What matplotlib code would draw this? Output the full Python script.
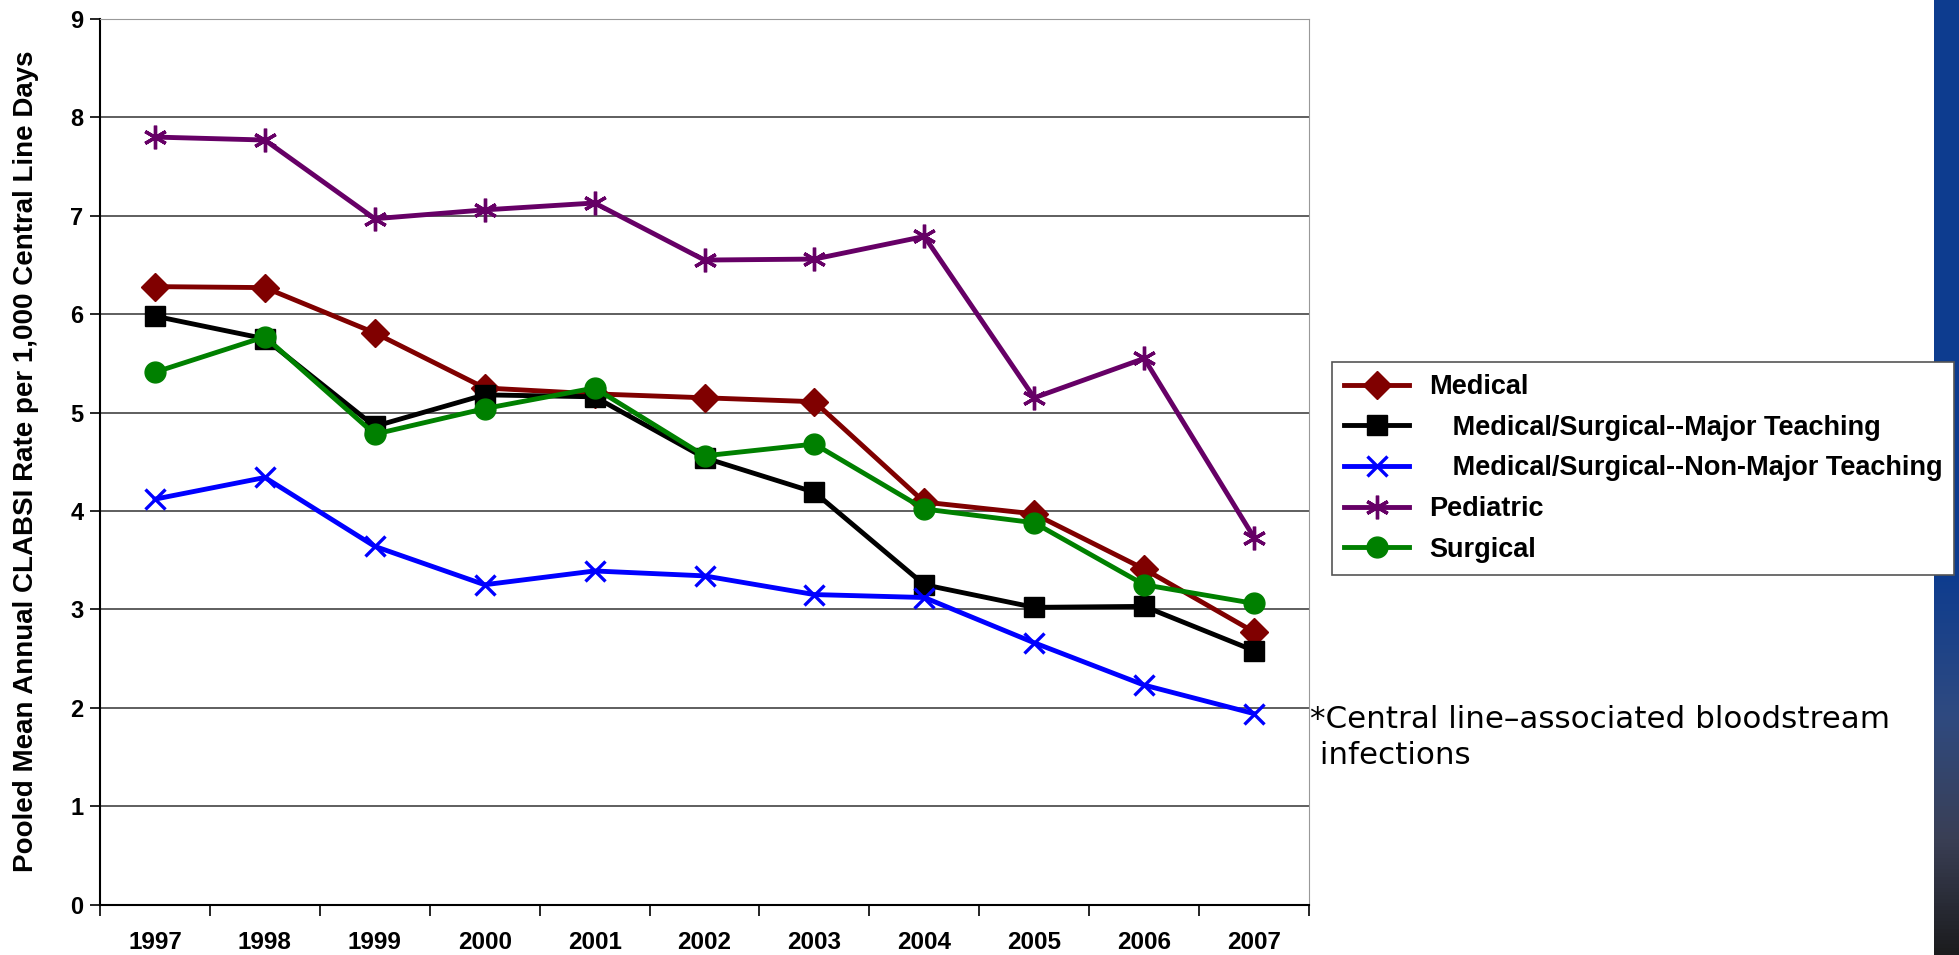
import numpy as np
import matplotlib

matplotlib.use("Agg")
import matplotlib.pyplot as plt
from matplotlib.colors import LinearSegmentedColormap

years = ["1997", "1998", "1999", "2000", "2001", "2002", "2003", "2004", "2005", "2006", "2007"]
medical = [6.28, 6.27, 5.81, 5.25, 5.19, 5.15, 5.11, 4.09, 3.97, 3.41, 2.77]
major_teaching = [5.98, 5.75, 4.86, 5.18, 5.16, 4.54, 4.19, 3.25, 3.02, 3.03, 2.58]
non_major_teaching = [4.12, 4.34, 3.64, 3.25, 3.39, 3.34, 3.15, 3.12, 2.66, 2.23, 1.94]
pediatric = [7.80, 7.77, 6.97, 7.06, 7.13, 6.55, 6.56, 6.79, 5.15, 5.55, 3.73]
surgical = [5.41, 5.77, 4.78, 5.04, 5.25, 4.56, 4.68, 4.02, 3.88, 3.25, 3.06]

labels = [
    "Medical",
    "   Medical/Surgical--Major Teaching",
    "   Medical/Surgical--Non-Major Teaching",
    "Pediatric",
    "Surgical",
]

plt.rcParams["font.family"] = ["Liberation Sans", "DejaVu Sans"]
plt.rcParams["font.weight"] = "bold"

W, H = 1959, 955
fig = plt.figure(figsize=(W / 100, H / 100), dpi=100)

# blue strip on the right edge
bar = fig.add_axes([1934 / W, 0, 25 / W, 1])
cmap = LinearSegmentedColormap.from_list(
    "strip", [(0, "#0d3c8f"), (0.6, "#0d3c8f"), (0.75, "#2f4a80"), (0.88, "#3a3f55"), (1, "#1c1c1e")]
)
bar.imshow(np.linspace(0, 1, 256).reshape(-1, 1), aspect="auto", cmap=cmap)
bar.set_axis_off()

ax = fig.add_axes([100 / W, 1 - 904.5 / H, 1209 / W, 885.5 / H])
x = np.arange(len(years))

ax.plot(x, medical, color="#800000", lw=3.5, marker="D", ms=14, label=labels[0])
ax.plot(x, major_teaching, color="black", lw=3.5, marker="s", ms=14, label=labels[1])
ax.plot(x, non_major_teaching, color="#0000ff", lw=3.5, marker="x", ms=15, mew=2.4, label=labels[2])
ax.plot(x, pediatric, color="#660066", lw=3.5, marker=(6, 2, 0), ms=17, mew=2.4, label=labels[3])
ax.plot(x, surgical, color="#008000", lw=3.5, marker="o", ms=15, label=labels[4])

ax.set_xlim(-0.5, len(years) - 0.5)
ax.set_ylim(0, 9)
ax.set_yticks(range(10))
ax.yaxis.grid(True, color="#333333", lw=1.1)
ax.set_axisbelow(True)

ax.set_xticks(np.arange(-0.5, len(years), 1.0))
ax.set_xticklabels([])
ax.set_xticks(x, minor=True)
ax.set_xticklabels(years, minor=True, fontsize=17.5, fontweight="bold")
ax.tick_params(axis="x", which="minor", length=0, pad=19)
ax.tick_params(axis="x", which="major", length=8, width=1.2, direction="out")
ax.tick_params(axis="y", length=7, width=1.2, pad=5, labelsize=17)
for t in ax.get_yticklabels():
    t.set_fontweight("bold")

ax.spines["left"].set_color("black")
ax.spines["bottom"].set_color("black")
ax.spines["left"].set_linewidth(1.5)
ax.spines["bottom"].set_linewidth(1.5)
ax.spines["top"].set_color("#999999")
ax.spines["right"].set_color("#999999")

ax.set_ylabel(
    "Pooled Mean Annual CLABSI Rate per 1,000 Central Line Days",
    fontsize=20,
    fontweight="bold",
    va="center",
)
ax.yaxis.set_label_coords(-0.0612, 0.5)

handles, lbls = ax.get_legend_handles_labels()
leg = fig.legend(
    handles,
    lbls,
    loc="upper left",
    bbox_to_anchor=(1332 / W, 1 - 362 / H),
    borderaxespad=0,
    fancybox=False,
    edgecolor="#555555",
    framealpha=1,
    prop={"size": 19.5, "weight": "bold"},
    handlelength=2.4,
    labelspacing=0.54,
    borderpad=0.45,
    handletextpad=0.75,
)
leg.get_frame().set_linewidth(1.2)

fig.text(
    1310 / W,
    1 - 705 / H,
    "*Central line–associated bloodstream\n infections",
    fontsize=22.3,
    fontweight="normal",
    family=["DejaVu Sans"],
    va="top",
    ha="left",
    linespacing=1.3,
)

fig.savefig("out.png", dpi=100)
